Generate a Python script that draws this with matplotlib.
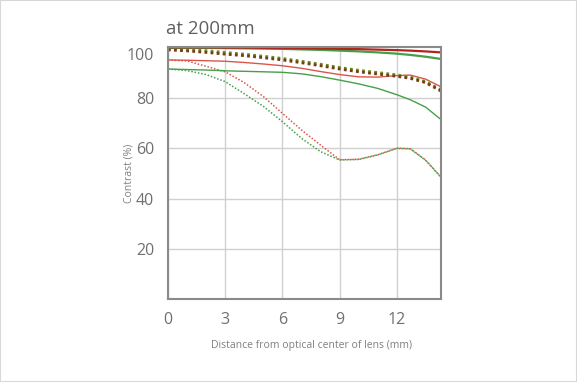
import matplotlib.pyplot as plt
from matplotlib.patches import Rectangle

plt.rcParams['font.family'] = ['Open Sans', 'DejaVu Sans']

# distance from optical centre (mm) where values were read
pos = [0, 1, 2, 3, 4, 5, 6, 7, 8, 9, 10, 11, 12, 12.7, 13.5, 14.3]

# solid lines (top pair)
red_top = [100, 100, 100, 99.9, 99.9, 99.8, 99.7, 99.6, 99.5, 99.4, 99.3, 99.1, 98.9, 98.7, 98.4, 98.0]
green_top = [99.8, 99.8, 99.8, 99.7, 99.6, 99.5, 99.4, 99.2, 99.0, 98.7, 98.4, 98.0, 97.5, 97.0, 96.3, 95.4]
# solid lines (middle pair)
red_mid = [95.0, 94.9, 94.7, 94.5, 94.0, 93.4, 92.7, 91.7, 90.4, 89.2, 88.3, 88.2, 88.8, 89.0, 87.4, 84.4]
green_mid = [91.4, 91.2, 91.0, 90.7, 90.5, 90.3, 90.1, 89.5, 88.4, 87.0, 85.5, 83.7, 81.2, 79.2, 76.3, 71.4]
# dotted lines (top pair)
red_dot_top = [99.0, 98.6, 98.0, 97.3, 96.7, 95.9, 95.0, 93.9, 92.7, 91.4, 90.3, 89.4, 88.5, 87.7, 86.0, 82.7]
green_dot_top = [99.5, 99.2, 98.7, 98.0, 97.3, 96.5, 95.6, 94.5, 93.3, 92.0, 90.9, 90.0, 89.1, 88.2, 86.4, 83.2]
# dotted lines (lower pair)
red_dot_low = [95.0, 94.6, 92.5, 90.3, 86.0, 80.5, 73.8, 67.2, 61.2, 55.4, 55.6, 57.4, 60.0, 59.8, 55.3, 48.6]
green_dot_low = [91.4, 90.8, 89.2, 86.4, 81.6, 76.6, 70.5, 63.9, 58.6, 55.3, 55.5, 57.3, 59.9, 59.7, 55.2, 48.5]

xticks = [0, 3, 6, 9, 12]
yticks = [20, 40, 60, 80]
ytop = 100

RED = '#d9574a'
DARKRED = '#b0241c'
GREEN = '#45a049'
DOT = (0, (1, 1.2))
LBL = '#707070'

fig = plt.figure(figsize=(5.77, 3.82), dpi=100)
fig.patches.append(Rectangle((0, 0), 1, 1, transform=fig.transFigure,
                             fill=False, edgecolor='#d8d8d8', lw=1.5))
ax = fig.add_axes([0.291, 0.2165, 0.473, 0.6595])

ax.plot(pos, red_dot_low, color=RED, lw=1.1, ls=DOT)
ax.plot(pos, green_dot_low, color=GREEN, lw=1.1, ls=DOT)
ax.plot(pos, green_mid, color=GREEN, lw=1.0)
ax.plot(pos, red_mid, color=RED, lw=1.0)
ax.plot(pos, green_dot_top, color='#6a8f1f', lw=2.0, ls=DOT)
ax.plot(pos, red_dot_top, color='#7a3a14', lw=2.0, ls=DOT)
ax.plot(pos, green_top, color=GREEN, lw=1.6)
ax.plot(pos, red_top, color=DARKRED, lw=1.6)

ax.set_xlim(0, 14.3)
ax.set_ylim(0, 100)
ax.set_xticks(xticks)
ax.set_yticks(yticks)
ax.grid(True, color='#d0d0d0', lw=1)
ax.set_axisbelow(True)
for s in ax.spines.values():
    s.set_color('#8a8a8a')
    s.set_linewidth(1.5)
ax.tick_params(length=0, labelsize=11.5, labelcolor=LBL)
ax.tick_params(axis='y', pad=10)
ax.tick_params(axis='x', pad=9)
# top label sits a little below the frame edge
ax.annotate(str(ytop), xy=(0, ytop), xycoords=('axes fraction', 'data'),
            xytext=(-10, -6), textcoords='offset points', ha='right',
            va='center', fontsize=11.5, color=LBL)

ax.set_ylabel('Contrast (%)', fontsize=7.5, color='#808080', labelpad=1)
ax.set_xlabel('Distance from optical center of lens (mm)', fontsize=7.5,
              color='#808080', labelpad=9)
ax.xaxis.label.set_x(0.525)
fig.text(0.287, 0.91, 'at 200mm', fontsize=13.5, color='#606060')

fig.savefig('out.png', dpi=100)
